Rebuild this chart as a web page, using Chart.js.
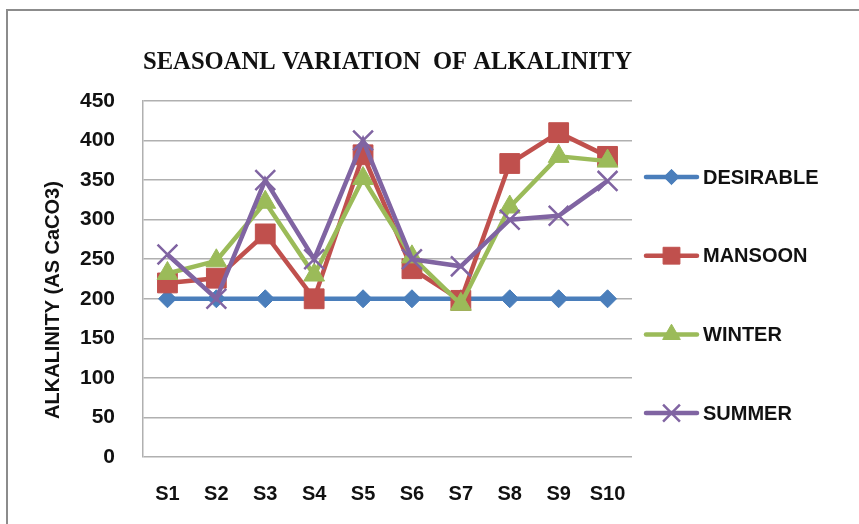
<!DOCTYPE html>
<html>
<head>
<meta charset="utf-8">
<script src="https://cdn.jsdelivr.net/npm/chart.js@4/dist/chart.umd.min.js"></script>
<style>
  html, body { margin: 0; padding: 0; background: #ffffff; }
  #wrap { width: 859px; height: 524px; position: relative; }
</style>
</head>
<body>
<div id="wrap"><canvas id="c" width="859" height="524"></canvas></div>
<script>
const categories = ['S1', 'S2', 'S3', 'S4', 'S5', 'S6', 'S7', 'S8', 'S9', 'S10'];
const desirable = [200, 200, 200, 200, 200, 200, 200, 200, 200, 200];
const mansoon   = [220, 226, 282, 200, 382, 238, 198, 371, 410, 380];
const winter    = [232, 248, 322, 230, 352, 253, 193, 316, 380, 374];
const summer    = [256, 200, 350, 250, 400, 250, 241, 300, 305, 349];
const yTicks    = [0, 50, 100, 150, 200, 250, 300, 350, 400, 450];
const yTitle    = 'ALKALINITY (AS CaCO3)';

const SANS = '"Liberation Sans", Arial, sans-serif';

const frame = {
  id: 'frame',
  beforeDraw(chart) {
    const ctx = chart.ctx;
    ctx.save();
    ctx.fillStyle = '#ffffff';
    ctx.fillRect(0, 0, chart.width, chart.height);
    ctx.strokeStyle = '#8c8c8c';
    ctx.lineWidth = 2;
    ctx.strokeRect(7, 10, chart.width + 20, chart.height + 20);
    ctx.restore();
  },
  afterDraw(chart) {
    const ctx = chart.ctx;
    const y = chart.scales.y;
    ctx.save();
    ctx.translate(53, (y.top + y.bottom) / 2 + 21);
    ctx.rotate(-Math.PI / 2);
    ctx.fillStyle = '#111111';
    ctx.font = 'bold 20px ' + SANS;
    ctx.textAlign = 'center';
    ctx.textBaseline = 'middle';
    ctx.fillText(yTitle, 0, 0);
    ctx.restore();
  }
};

const sideLegend = {
  id: 'sideLegend',
  afterDraw(chart) {
    const ctx = chart.ctx;
    const area = chart.chartArea;
    const x0 = area.right + 14;
    const lineLen = 51;
    const startY = 177;
    const step = 78.7;
    chart.data.datasets.forEach((ds, i) => {
      const y = startY + i * step;
      ctx.save();
      ctx.strokeStyle = ds.borderColor;
      ctx.lineWidth = ds.borderWidth;
      ctx.lineCap = 'round';
      ctx.beginPath();
      ctx.moveTo(x0, y);
      ctx.lineTo(x0 + lineLen, y);
      ctx.stroke();
      ctx.lineCap = 'butt';
      ctx.fillStyle = ds.pointBackgroundColor;
      ctx.strokeStyle = ds.pointBorderColor;
      ctx.lineWidth = ds.pointBorderWidth;
      Chart.helpers.drawPoint(ctx, {
        pointStyle: ds.pointStyle,
        radius: ds.pointRadius * 0.85,
        borderWidth: ds.pointBorderWidth,
        rotation: 0
      }, x0 + lineLen / 2, y);
      ctx.fillStyle = '#111111';
      ctx.font = 'bold 20px ' + SANS;
      ctx.textBaseline = 'middle';
      ctx.textAlign = 'left';
      ctx.fillText(ds.label, x0 + lineLen + 6, y + 1);
      ctx.restore();
    });
  }
};

function series(label, data, color, style, radius, bw, order) {
  return {
    label, data,
    borderColor: color,
    backgroundColor: color,
    borderWidth: 4.5,
    pointStyle: style,
    pointRadius: radius,
    pointHoverRadius: radius,
    pointBackgroundColor: color,
    pointBorderColor: color,
    pointBorderWidth: bw,
    tension: 0,
    order: order
  };
}

new Chart(document.getElementById('c'), {
  type: 'line',
  data: {
    labels: categories,
    datasets: [
      series('DESIRABLE', desirable, '#4a7ebb', 'rectRot', 9, 1, 3),
      series('MANSOON', mansoon, '#c0504d', 'rect', 14, 1, 2),
      series('WINTER', winter, '#9bbb59', 'triangle', 12, 1, 1),
      series('SUMMER', summer, '#8064a2', 'crossRot', 14, 2.5, 0)
    ]
  },
  options: {
    responsive: false,
    animation: false,
    devicePixelRatio: 1,
    layout: { padding: { left: 31, right: 227, top: 20, bottom: 0 } },
    plugins: {
      legend: { display: false },
      tooltip: { enabled: false },
      title: {
        display: true,
        fullSize: false,
        text: 'SEASOANL VARIATION  OF ALKALINITY',
        color: '#111111',
        font: { family: '"Liberation Serif", "Times New Roman", serif', size: 25, weight: 'bold' },
        padding: { top: 28, bottom: 23 }
      }
    },
    scales: {
      x: {
        offset: true,
        grid: { display: false, drawTicks: false },
        border: { display: false },
        ticks: {
          color: '#111111',
          font: { family: SANS, size: 20, weight: 'bold' },
          padding: 25,
          maxRotation: 0,
          autoSkip: false
        },
        afterFit(s) { s.height = 67; }
      },
      y: {
        min: 0,
        max: 450,
        afterBuildTicks(s) { s.ticks = yTicks.map(v => ({ value: v })); },
        grid: { color: '#b0b0b0', lineWidth: 1.5, drawTicks: false },
        border: { display: true, color: '#b0b0b0', width: 1.5 },
        ticks: {
          color: '#111111',
          font: { family: SANS, size: 21, weight: 'bold' },
          padding: 28
        },
        title: { display: false },
        afterFit(s) { s.width = 112; }
      }
    }
  },
  plugins: [frame, sideLegend]
});
</script>
</body>
</html>
